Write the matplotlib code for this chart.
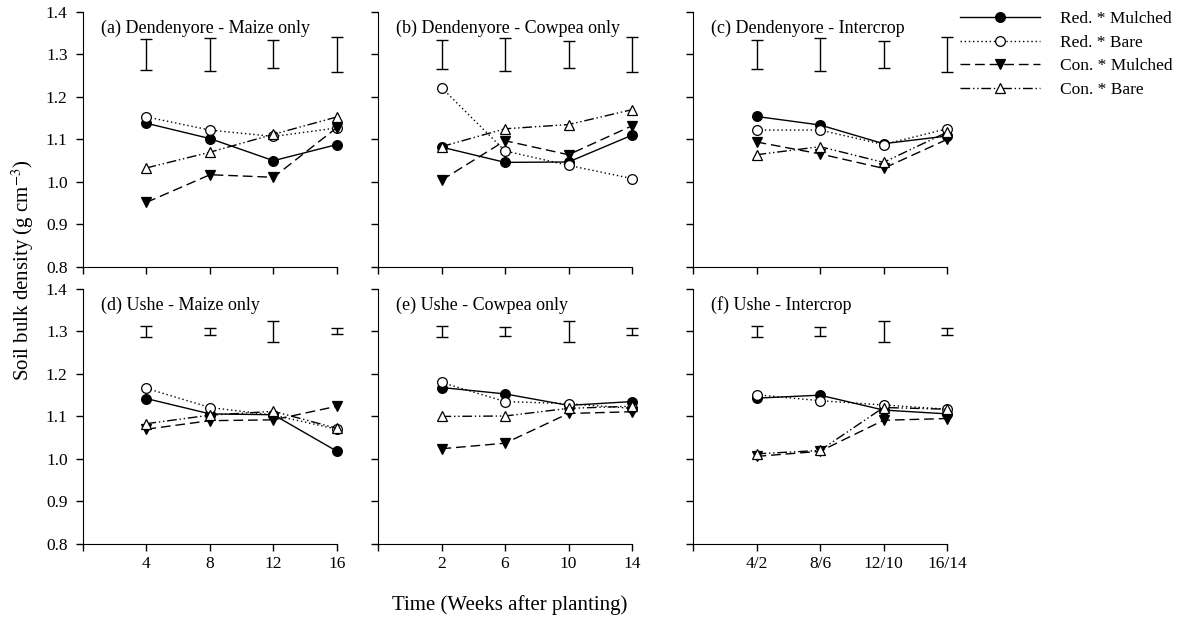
import numpy as np
import matplotlib
matplotlib.use("Agg")
import matplotlib.pyplot as plt

plt.rcParams['font.family'] = ['Liberation Serif', 'DejaVu Serif']
plt.rcParams['mathtext.fontset'] = 'stix'

# --- data ---
weeks_maize = [4, 8, 12, 16]
weeks_cowpea = [2, 6, 10, 14]
inter_pos = [1, 2, 3, 4]
inter_labels = ['4/2', '8/6', '12/10', '16/14']

titles = ['(a) Dendenyore - Maize only', '(b) Dendenyore - Cowpea only', '(c) Dendenyore - Intercrop',
          '(d) Ushe - Maize only', '(e) Ushe - Cowpea only', '(f) Ushe - Intercrop']
labels = ['Red. * Mulched', 'Red. * Bare', 'Con. * Mulched', 'Con. * Bare']

# each panel: [Red*Mulched, Red*Bare, Con*Mulched, Con*Bare]
a_vals = [[1.138, 1.102, 1.050, 1.088],
          [1.153, 1.122, 1.107, 1.127],
          [0.952, 1.017, 1.011, 1.128],
          [1.033, 1.070, 1.112, 1.153]]
b_vals = [[1.082, 1.046, 1.047, 1.110],
          [1.222, 1.073, 1.039, 1.008],
          [1.004, 1.097, 1.064, 1.132],
          [1.083, 1.125, 1.135, 1.170]]
c_vals = [[1.154, 1.134, 1.090, 1.108],
          [1.122, 1.122, 1.088, 1.125],
          [1.094, 1.066, 1.032, 1.100],
          [1.064, 1.083, 1.046, 1.117]]
d_vals = [[1.142, 1.106, 1.104, 1.018],
          [1.166, 1.121, 1.103, 1.070],
          [1.070, 1.090, 1.092, 1.124],
          [1.083, 1.103, 1.112, 1.072]]
e_vals = [[1.168, 1.153, 1.126, 1.135],
          [1.180, 1.135, 1.130, 1.119],
          [1.024, 1.037, 1.107, 1.111],
          [1.100, 1.101, 1.119, 1.124]]
f_vals = [[1.143, 1.150, 1.115, 1.106],
          [1.151, 1.137, 1.127, 1.117],
          [1.006, 1.018, 1.091, 1.095],
          [1.012, 1.020, 1.121, 1.117]]

# LSD bars (centre 1.30), half widths
lsd_top = [[0.036, 0.039, 0.033, 0.042],
           [0.035, 0.039, 0.032, 0.041],
           [0.034, 0.038, 0.032, 0.041]]
lsd_bottom = [[0.012, 0.009, 0.024, 0.007],
              [0.013, 0.010, 0.024, 0.008],
              [0.013, 0.011, 0.024, 0.008]]
lsd_centre = 1.30

styles = [dict(linestyle='-', marker='o', markerfacecolor='black'),
          dict(linestyle=(0, (1, 2)), marker='o', markerfacecolor='white'),
          dict(linestyle=(0, (7, 3.5)), marker='v', markerfacecolor='black'),
          dict(linestyle=(0, (7, 2, 1, 2, 1, 2)), marker='^', markerfacecolor='white')]

fig = plt.figure(figsize=(11.82, 6.19), dpi=100)
lefts = [0.0702, 0.3198, 0.5863]
width = 0.2149
bottoms = [0.5687, 0.1212]
height = 0.4121

panels = [(a_vals, weeks_maize, [0] + weeks_maize, [''] + [str(w) for w in weeks_maize], (0, 16)),
          (b_vals, weeks_cowpea, [-2] + weeks_cowpea, [''] + [str(w) for w in weeks_cowpea], (-2, 14)),
          (c_vals, inter_pos, [0] + inter_pos, [''] + inter_labels, (0, 4)),
          (d_vals, weeks_maize, [0] + weeks_maize, [''] + [str(w) for w in weeks_maize], (0, 16)),
          (e_vals, weeks_cowpea, [-2] + weeks_cowpea, [''] + [str(w) for w in weeks_cowpea], (-2, 14)),
          (f_vals, inter_pos, [0] + inter_pos, [''] + inter_labels, (0, 4))]

handles = []
for i, (vals, xs, ticks, ticklabels, xlim) in enumerate(panels):
    row, col = divmod(i, 3)
    ax = fig.add_axes([lefts[col], bottoms[row], width, height])
    for k in range(4):
        h, = ax.plot(xs, vals[k], color='black', linewidth=1.0, markersize=7,
                     markeredgecolor='black', markeredgewidth=0.9, label=labels[k],
                     clip_on=False, **styles[k])
        if i == 0:
            handles.append(h)
    lsd = lsd_top[col] if row == 0 else lsd_bottom[col]
    ax.errorbar(xs, [lsd_centre] * 4, yerr=lsd, fmt='none', ecolor='black',
                elinewidth=1.0, capsize=4, capthick=1.0, clip_on=False)
    ax.set_xlim(xlim)
    ax.set_ylim(0.8, 1.4)
    ax.set_yticks(np.arange(0.8, 1.41, 0.1))
    ax.set_xticks(ticks)
    if row == 1:
        ax.set_xticklabels(ticklabels)
    else:
        ax.set_xticklabels([])
    if col == 0:
        ax.set_yticklabels(['%.1f' % v for v in np.arange(0.8, 1.41, 0.1)])
    else:
        ax.set_yticklabels([])
    ax.spines['top'].set_visible(False)
    ax.spines['right'].set_visible(False)
    ax.tick_params(direction='out', length=5, width=1.0, labelsize=12.5)
    ax.tick_params(axis='y', pad=6)
    ax.tick_params(axis='x', pad=4)
    ax.text(0.07, 0.935, titles[i], transform=ax.transAxes, fontsize=13,
            ha='left', va='center')

fig.text(0.019, 0.563, 'Soil bulk density (g cm$^{-3}$)', rotation=90,
         ha='center', va='center', fontsize=15)
fig.text(0.431, 0.023, 'Time (Weeks after planting)', ha='center', va='center', fontsize=15)

fig.legend(handles, labels, loc='upper left', bbox_to_anchor=(0.812, 0.982),
           frameon=False, fontsize=12.5, handlelength=4.6, handletextpad=1.2,
           labelspacing=0.42, borderpad=0, borderaxespad=0)

fig.savefig('out.png', dpi=100)
